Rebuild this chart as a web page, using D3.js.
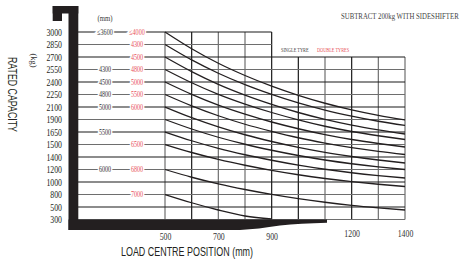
<!DOCTYPE html>
<html><head><meta charset="utf-8">
<script src="https://cdn.jsdelivr.net/npm/d3@7"></script>
<style>body{margin:0;background:#fff}svg{display:block}</style>
</head><body>
<svg id="c" width="460" height="264"></svg>
<script>
// ---- data ----
const capacityTicks = [3000,2850,2700,2550,2400,2250,2100,1900,1650,1500,1400,1200,1000,800,500,300];
const loadCentres = [500,600,700,800,900,1000,1100,1200,1300,1400];
const xTickLabels = [500,700,900,1200,1400];
const curve3000 = [3000,2799,2625,2478,2350,2240,2145,2054,1966,1890];
const curve2850 = [2850,2665,2505,2368,2251,2149,2050,1954,1865,1780];
const curve2700 = [2700,2525,2372,2243,2132,2012,1902,1788,1693,1626];
const curve2550 = [2550,2391,2252,2135,2012,1893,1765,1660,1605,1560];
const curve2400 = [2400,2252,2123,1986,1850,1715,1619,1560,1512,1480];
const curve2250 = [2250,2114,1960,1805,1663,1581,1517,1475,1445,1420];
const curve2100 = [2100,1930,1753,1617,1536,1477,1437,1404,1352,1304];
const curve1900 = [1900,1710,1587,1503,1454,1412,1352,1292,1242,1200];
const curve1650 = [1650,1545,1469,1418,1348,1270,1204,1148,1102,1064];
const curve1500 = [1500,1436,1362,1268,1186,1116,1056,1006,964,928];
const curve1200 = [1200,1076,970,880,802,701,614,539,486,452];
const curve800  = [800,602,452,356,308];
const curves = [curve3000,curve2850,curve2700,curve2550,curve2400,curve2250,curve2100,curve1900,curve1650,curve1500,curve1200,curve800];
const singleTyreLabels = [[3000,"≤3600"],[2550,"4300"],[2400,"4500"],[2250,"4800"],[2100,"5000"],[1650,"5500"],[1200,"6000"]];
const doubleTyreLabels = [[3000,"≤4000"],[2850,"4300"],[2700,"4500"],[2550,"4800"],[2400,"5000"],[2250,"5500"],[2100,"6000"],[1500,"6500"],[1200,"6800"],[800,"7000"]];

// ---- scales ----
const svg = d3.select("#c");
const y = d3.scaleLinear().domain(capacityTicks).range(capacityTicks.map((d,i)=>32+12.5*i));
const x = d3.scaleLinear().domain([500,1400]).range([165,405]);
const RED = "#e8525a", INK = "#231f20";
const serif = "'Liberation Serif','DejaVu Serif',serif";
function condense(sel,k){ sel.each(function(){ const w=this.getComputedTextLength(); this.setAttribute("textLength",w*k); this.setAttribute("lengthAdjust","spacingAndGlyphs"); }); }
// condensed text drawn with a horizontal scale transform
function narrowText(px,py,k,size,family,fill,str){
  return svg.append("g").attr("transform",`translate(${px},${py}) scale(${k},1)`)
    .append("text").attr("font-family",family).attr("font-size",size).attr("fill",fill).text(str);
}

// ---- grid ----
const g = svg.append("g");
const gridTop = v => v <= 900 ? y(3000) : y(2700);
g.selectAll("line.v").data(d3.range(500,1401,100)).join("line")
  .attr("x1",d=>x(d)).attr("x2",d=>x(d))
  .attr("y1",d=>gridTop(d)).attr("y2",y(300))
  .attr("stroke",(d,i)=>[1,4,5,7].includes(i)?"#1a1a1a":"#6e6e6e").attr("stroke-width",1.2);
g.selectAll("line.h").data(capacityTicks).join("line")
  .attr("x1",78).attr("x2",d=>d>2700?x(900):x(1400))
  .attr("y1",d=>y(d)).attr("y2",d=>y(d))
  .attr("stroke",(d,i)=>i%2?"#6e6e6e":"#1a1a1a").attr("stroke-width",1.2);

// ---- curves ----
const line = d3.line().x((d,i)=>x(loadCentres[i])).y(d=>y(d)).curve(d3.curveMonotoneX);
svg.append("g").selectAll("path").data(curves).join("path")
  .attr("d",line).attr("fill","none").attr("stroke",INK).attr("stroke-width",1.3);

// ---- fork silhouette ----
const fk = svg.append("g").attr("fill",INK);
fk.append("rect").attr("x",52.7).attr("y",6).attr("width",25.6).attr("height",7.5);
fk.append("rect").attr("x",52.7).attr("y",6).attr("width",9.3).attr("height",15);
fk.append("rect").attr("x",68.5).attr("y",6).attr("width",9.8).attr("height",224);
fk.append("path").attr("d",`M68.5,${y(300)} L327,${y(300)} L327,222.8 Q300,223.5 280,225.5 Q258,229 240,230 L68.5,230 Z`);

// ---- y tick labels ----
const ya = svg.append("g").attr("transform","translate(63,0)")
  .call(d3.axisLeft(y).tickValues(capacityTicks).tickSize(0).tickPadding(1).tickFormat(d3.format("d")));
ya.select(".domain").remove();
ya.selectAll("text").attr("font-family",serif).attr("font-size",10).attr("fill",INK).attr("dy","0.34em");
condense(ya.selectAll("text"),0.78);

// ---- x tick labels ----
const xa = svg.append("g").attr("transform","translate(0,224)")
  .call(d3.axisBottom(x).tickValues(xTickLabels).tickSize(0).tickPadding(9).tickFormat(d3.format("d")));
xa.select(".domain").remove();
xa.selectAll("text").attr("font-family",serif).attr("font-size",10).attr("fill","#333");
xa.selectAll(".tick").filter(d=>d>1000).select("text").attr("dy","0.41em");
condense(xa.selectAll("text"),0.78);

// ---- mast-height labels on the lines ----
const lab = svg.append("g").attr("font-family",serif).attr("font-size",8.5).attr("text-anchor","middle")
  .attr("stroke","#fff").attr("stroke-width",4).attr("paint-order","stroke");
lab.selectAll("text.s").data(singleTyreLabels).join("text")
  .attr("x",105).attr("y",d=>y(d[0])).attr("dy","0.35em").attr("fill","#333").text(d=>d[1]);
lab.selectAll("text.d").data(doubleTyreLabels).join("text")
  .attr("x",137).attr("y",d=>y(d[0])).attr("dy","0.35em").attr("fill",RED).text(d=>d[1]);
condense(lab.selectAll("text"),0.72);

// ---- texts ----
const t1 = svg.append("text").attr("x",105).attr("y",21).attr("text-anchor","middle")
  .attr("font-family",serif).attr("font-size",9).attr("fill","#333").text("(mm)");
condense(t1,0.75);
svg.append("text").attr("transform","translate(7.5,94.5) rotate(90)").attr("text-anchor","middle")
  .attr("font-family","'Liberation Sans',sans-serif").attr("font-size",13).attr("fill",INK)
  .attr("textLength",75).attr("lengthAdjust","spacingAndGlyphs").text("RATED CAPACITY");
svg.append("text").attr("transform","translate(31,60.5) rotate(90)").attr("text-anchor","middle")
  .attr("font-family",serif).attr("font-size",9).attr("fill","#333")
  .attr("textLength",14).attr("lengthAdjust","spacingAndGlyphs").text("(kg)");
svg.append("text").attr("x",121).attr("y",256)
  .attr("font-family","'Liberation Sans',sans-serif").attr("font-size",13).attr("fill",INK)
  .attr("textLength",132).attr("lengthAdjust","spacingAndGlyphs").text("LOAD CENTRE POSITION (mm)");
narrowText(341,18.5,0.8,8.5,serif,"#444","SUBTRACT 200kg WITH SIDESHIFTER");
narrowText(281,52,0.72,6,serif,"#444","SINGLE TYRE");
narrowText(317,52,0.72,6,serif,RED,"DOUBLE TYRES");
</script>
</body></html>
